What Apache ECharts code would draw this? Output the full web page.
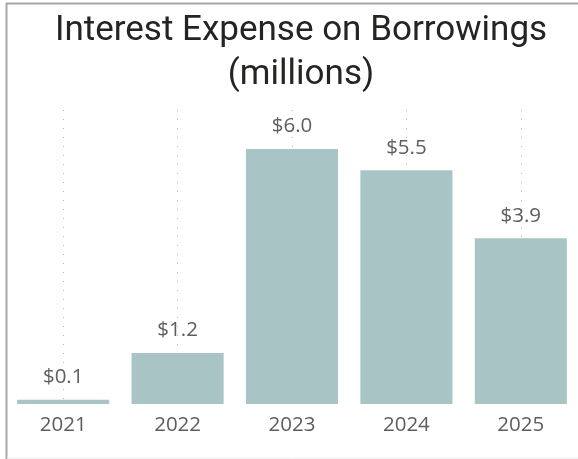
<!DOCTYPE html>
<html>
<head>
<meta charset="utf-8">
<script src="https://cdn.jsdelivr.net/npm/echarts@6/dist/echarts.min.js"></script>
<style>
  html, body { margin: 0; padding: 0; background: #fff; }
  #chart { width: 578px; height: 459px; }
</style>
</head>
<body>
<div id="chart"></div>
<script>
// Annual interest expense on borrowings, in millions of dollars
const years = ['2021', '2022', '2023', '2024', '2025'];
const interestExpense = [0.1, 1.2, 6.0, 5.5, 3.9];

const chart = echarts.init(document.getElementById('chart'), null, { renderer: 'canvas' });

chart.setOption({
  animation: false,
  backgroundColor: '#ffffff',
  title: {
    text: 'Interest Expense on Borrowings\n(millions)',
    left: 296,
    top: 4,
    textAlign: 'center',
    textStyle: {
      fontFamily: 'Roboto',
      fontSize: 35,
      fontWeight: 'normal',
      color: '#252423',
      lineHeight: 44
    }
  },
  grid: { left: 6, right: -5, top: 110, bottom: 55, containLabel: false },
  xAxis: {
    type: 'category',
    data: years,
    axisLine: { show: false },
    axisTick: { show: false },
    axisLabel: {
      margin: 11,
      fontFamily: 'Open Sans',
      fontSize: 20.5,
      color: '#605E5C'
    },
    splitLine: {
      show: true,
      alignWithLabel: true,
      lineStyle: { color: '#b8b8b8', width: 1, type: [1, 8] }
    }
  },
  yAxis: {
    type: 'value',
    min: 0,
    max: 6.92,
    show: false,
    splitLine: { show: false }
  },
  series: [{
    type: 'bar',
    data: interestExpense,
    barCategoryGap: '19.5%',
    itemStyle: { color: '#A9C4C5' },
    label: {
      show: true,
      position: 'top',
      distance: 12,
      fontFamily: 'Open Sans',
      fontSize: 20.5,
      color: '#605E5C',
      formatter: p => '$' + p.value.toFixed(1)
    }
  }],
  graphic: [
    { type: 'line', shape: { x1: 6.5, y1: 3, x2: 6.5, y2: 459 }, style: { stroke: '#a8a8a8', lineWidth: 2 }, z: 10 },
    { type: 'line', shape: { x1: 6, y1: 3.5, x2: 578, y2: 3.5 }, style: { stroke: '#a8a8a8', lineWidth: 2 }, z: 10 },
    { type: 'line', shape: { x1: 7, y1: 458, x2: 578, y2: 458 }, style: { stroke: '#eeeeee', lineWidth: 1 }, z: 10 }
  ]
});
</script>
</body>
</html>
